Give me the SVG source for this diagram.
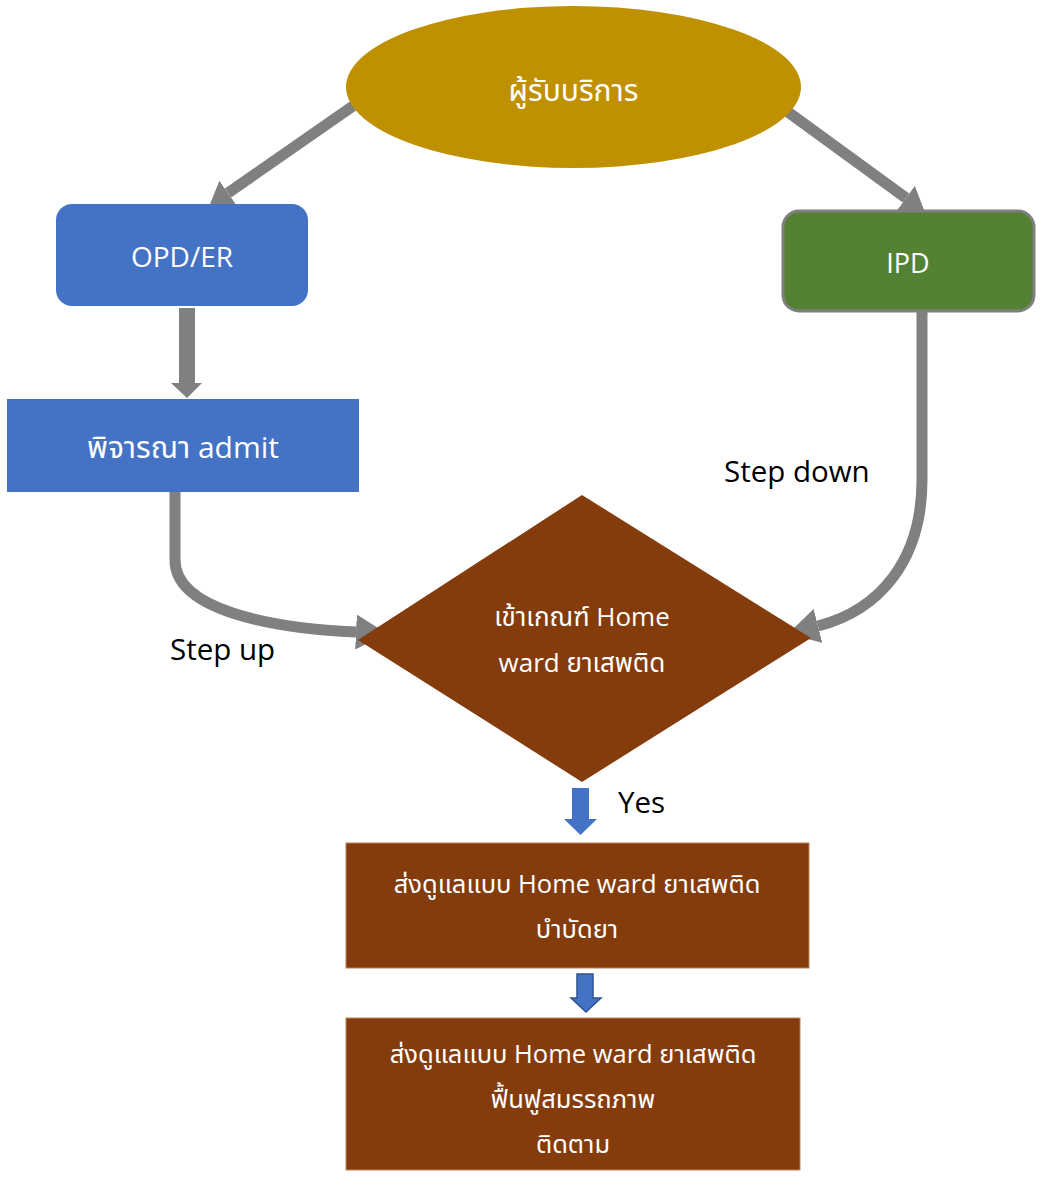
<svg xmlns="http://www.w3.org/2000/svg" width="1041" height="1178" viewBox="0 0 1041 1178">
<style>
  text { font-family: "Open Sans", "Noto Sans", "Noto Sans Thai", "DejaVu Sans", sans-serif; }
  .w { fill: #FFFFFF; text-anchor: middle; }
  .lbl { fill: #000000; font-size: 29.5px; }
  .conn { fill: none; stroke: #808080; stroke-width: 11; }
  .brown { fill: #843C0C; }
  .blue { fill: #4472C4; }
</style>
<defs>
  <marker id="headBig" markerUnits="userSpaceOnUse" markerWidth="31" markerHeight="35" viewBox="0 0 31 35" refX="0" refY="17.5" orient="auto">
    <path d="M0,0 L31,17.5 L0,35 Z" fill="#808080"/>
  </marker>
  <marker id="headSmall" markerUnits="userSpaceOnUse" markerWidth="23" markerHeight="30" viewBox="0 0 23 30" refX="0" refY="15" orient="auto">
    <path d="M0,0 L23,15 L0,30 Z" fill="#808080"/>
  </marker>
</defs>

<rect width="1041" height="1178" fill="#FFFFFF"/>

<g id="connectors">
  <line class="conn" x1="353" y1="106" x2="228" y2="193" marker-end="url(#headSmall)"/>
  <line class="conn" x1="788" y1="112" x2="906" y2="198" marker-end="url(#headSmall)"/>
  <polygon points="179,308 195,308 195,383 202,383 187,398 171,383 179,383" fill="#808080"/>
  <path class="conn" d="M175,487 L175,560 C175,610 270,628 356,632" marker-end="url(#headBig)"/>
  <path class="conn" d="M922,311 L922,480 C922,560 880,610 818,626" marker-end="url(#headBig)"/>
  <polygon points="572,788 589,788 589,819 597,819 580.5,835 564,819 572,819" fill="#4472C4"/>
  <polygon points="577,974 593,974 593,998 601,998 586,1012 571,998 577,998" fill="#4472C4" stroke="#2F528F" stroke-width="1.5"/>
</g>

<g id="labels">
  <text class="lbl" x="170" y="660">Step up</text>
  <text class="lbl" x="724" y="482">Step down</text>
  <text class="lbl" x="618" y="813">Yes</text>
</g>

<g id="node-client">
  <ellipse cx="573.5" cy="87" rx="227.5" ry="81" fill="#BF9000"/>
  <text class="w" x="573.5" y="101" font-size="30">ผู้รับบริการ</text>
</g>

<g id="node-opd">
  <rect x="56" y="204" width="252" height="102" rx="16" class="blue"/>
  <text class="w" x="182" y="267" font-size="28">OPD/ER</text>
</g>

<g id="node-ipd">
  <rect x="783" y="211" width="251" height="100" rx="16" fill="#548235" stroke="#7F7F7F" stroke-width="3"/>
  <text class="w" x="908" y="273" font-size="27">IPD</text>
</g>

<g id="node-admit">
  <rect x="7" y="399" width="352" height="93" class="blue"/>
  <text class="w" x="183" y="458" font-size="30">พิจารณา admit</text>
</g>

<g id="node-criteria">
  <polygon points="582,495 811,638 582,782 358,640" class="brown"/>
  <text class="w" x="582" y="626" font-size="26">เข้าเกณฑ์ Home</text>
  <text class="w" x="582" y="672" font-size="26">ward ยาเสพติด</text>
</g>

<g id="node-treatment">
  <rect x="346" y="843" width="463" height="125" class="brown" stroke="#C0805A" stroke-width="1"/>
  <text class="w" x="577" y="893" font-size="25.5">ส่งดูแลแบบ Home ward ยาเสพติด</text>
  <text class="w" x="577" y="938" font-size="25.5">บำบัดยา</text>
</g>

<g id="node-rehab">
  <rect x="346" y="1018" width="454" height="152" class="brown" stroke="#C0805A" stroke-width="1"/>
  <text class="w" x="573" y="1063" font-size="25.5">ส่งดูแลแบบ Home ward ยาเสพติด</text>
  <text class="w" x="573" y="1108" font-size="25.5">ฟื้นฟูสมรรถภาพ</text>
  <text class="w" x="573" y="1153" font-size="25.5">ติดตาม</text>
</g>
</svg>
